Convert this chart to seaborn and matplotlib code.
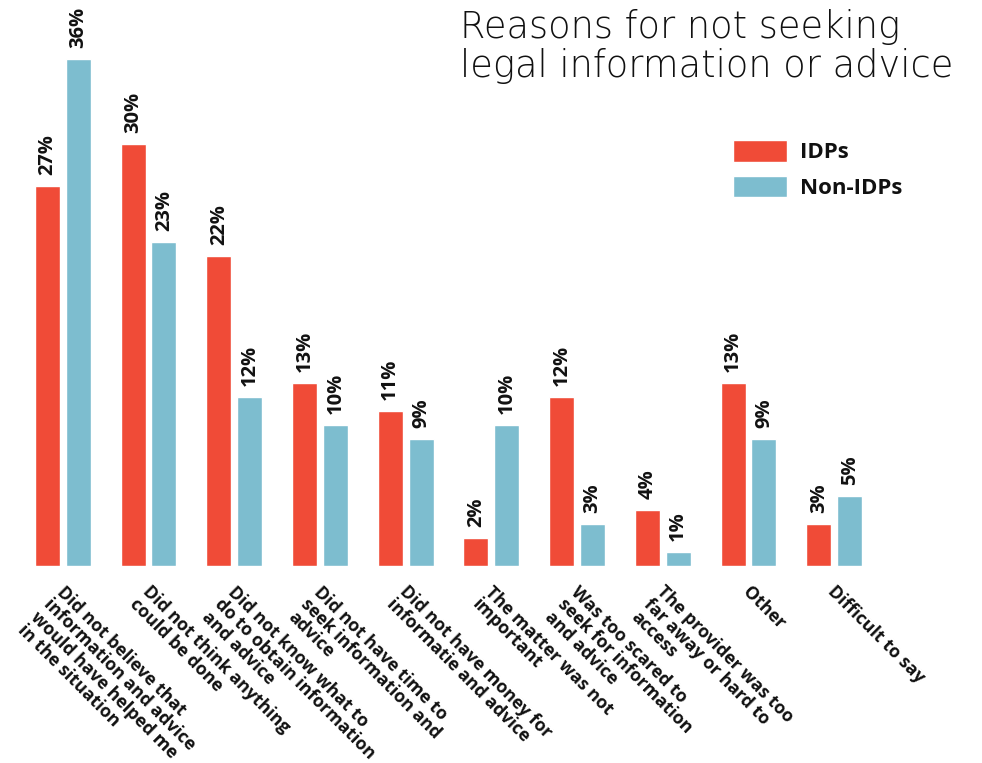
import matplotlib
matplotlib.use("Agg")
import matplotlib.pyplot as plt
import matplotlib.transforms as mtransforms
import seaborn as sns
import pandas as pd

categories = [
    "Did not believe that\ninformation and advice\nwould have helped me\nin the situation",
    "Did not think anything\ncould be done",
    "Did not know what to\ndo to obtain information\nand advice",
    "Did not have time to\nseek information and\nadvice",
    "Did not have money for\ninformatie and advice",
    "The matter was not\nimportant",
    "Was too scared to\nseek for information\nand advice",
    "The provider was too\nfar away or hard to\naccess",
    "Other",
    "Difficult to say",
]
idps = [27, 30, 22, 13, 11, 2, 12, 4, 13, 3]
non_idps = [36, 23, 12, 10, 9, 10, 3, 1, 9, 5]
series_names = ["IDPs", "Non-IDPs"]
colors = ["#F04B37", "#7DBDCF"]
title = "Reasons for not seeking\nlegal information or advice"

df = pd.DataFrame({
    "reason": categories * 2,
    "value": idps + non_idps,
    "group": [series_names[0]] * len(categories) + [series_names[1]] * len(categories),
})

sns.set_theme(style="white")
plt.rcParams["font.family"] = ["Open Sans", "DejaVu Sans"]

fig = plt.figure(figsize=(9.82, 7.63), dpi=100)
ax = fig.add_axes([20 / 982, (763 - 566) / 763, 857 / 982, 563 / 763])

sns.barplot(data=df, x="reason", y="value", hue="group", palette=colors,
            width=0.72, gap=0.19, ax=ax, saturation=1, legend=True)

ax.set_xlim(-0.5, 9.5)
ax.set_ylim(0, 40)
ax.set_xlabel("")
ax.set_ylabel("")
ax.set_yticks([])
for s in ax.spines.values():
    s.set_visible(False)

for cont in ax.containers:
    ax.bar_label(cont, labels=[f"{int(v)}%" for v in cont.datavalues],
                 rotation=90, padding=8, fontsize=14.5, fontweight="bold",
                 color="#111111")

ax.tick_params(axis="x", length=0, pad=12)
offset = mtransforms.ScaledTranslation(3 / 100, 0, fig.dpi_scale_trans)
for lab in ax.get_xticklabels():
    lab.set_rotation(-45)
    lab.set_ha("left")
    lab.set_va("top")
    lab.set_rotation_mode("anchor")
    lab.set_fontsize(12.8)
    lab.set_fontweight("bold")
    lab.set_color("#111111")
    lab.set_multialignment("left")
    lab.set_linespacing(1.02)
    lab.set_transform(lab.get_transform() + offset)

leg = ax.legend(loc="upper left", bbox_to_anchor=(733 / 982, 1 - 140 / 763),
                bbox_transform=fig.transFigure, frameon=False,
                fontsize=16, handlelength=2.43, handleheight=1.13,
                labelspacing=0.55, handletextpad=0.59, borderpad=0, borderaxespad=0)
for t in leg.get_texts():
    t.set_fontweight("bold")
    t.set_color("#111111")

fig.text(460 / 982, 1 - 9 / 763, title, ha="left", va="top", fontsize=26.5,
         fontfamily="DejaVu Sans", fontweight="light", color="#111111",
         linespacing=1.12)

fig.savefig("out.png", dpi=100)
